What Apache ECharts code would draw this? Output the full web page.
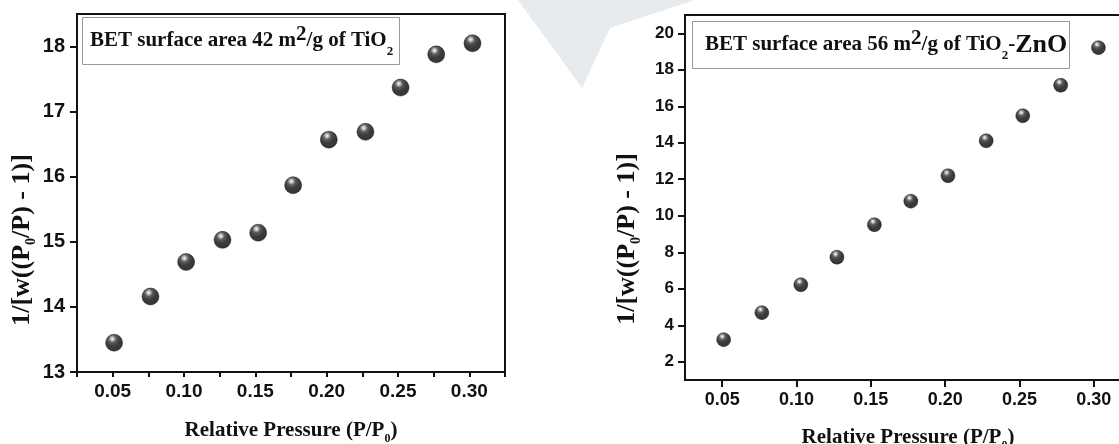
<!DOCTYPE html>
<html><head><meta charset="utf-8">
<script src="https://cdn.jsdelivr.net/npm/echarts@6/dist/echarts.min.js"></script>
<style>html,body{margin:0;padding:0;background:#fff}#c{width:1119px;height:444px}</style>
</head><body><div id="c"></div>
<script>
// ---- data ----
const pressureA = [0.051, 0.0765, 0.1015, 0.127, 0.152, 0.1765, 0.2015, 0.2272, 0.2518, 0.2768, 0.3022];
const betTiO2 = [13.45, 14.16, 14.69, 15.03, 15.14, 15.87, 16.57, 16.69, 17.37, 17.88, 18.05];
const pressureB = [0.051, 0.0767, 0.1029, 0.1272, 0.1524, 0.1769, 0.2019, 0.2276, 0.2522, 0.2777, 0.3031];
const betTiO2ZnO = [3.21, 4.69, 6.22, 7.73, 9.51, 10.80, 12.19, 14.11, 15.48, 17.15, 19.21];
const xLabelTicks = [0.05, 0.10, 0.15, 0.20, 0.25, 0.30];
const xTickMarksA = [0.025, 0.05, 0.075, 0.1, 0.125, 0.15, 0.175, 0.2, 0.225, 0.25, 0.275, 0.3, 0.325];
const yTicksA = [13, 14, 15, 16, 17, 18];
const yTicksB = [2, 4, 6, 8, 10, 12, 14, 16, 18, 20];

const SERIF = 'Liberation Serif';
const SANS = 'Liberation Sans';
const INK = '#111';

function sphere() {
  return {
    type: 'radial', x: 0.4, y: 0.28, r: 0.85,
    colorStops: [
      { offset: 0, color: '#ffffff' },
      { offset: 0.1, color: '#b8b8b8' },
      { offset: 0.26, color: '#333' },
      { offset: 0.5, color: '#0a0a0a' },
      { offset: 1, color: '#000' }
    ]
  };
}

const titleRich = {
  m: { fontFamily: SERIF, fontWeight: 'bold', fontSize: 21, lineHeight: 34, color: INK, verticalAlign: 'middle' },
  sup: { fontFamily: SERIF, fontWeight: 'bold', fontSize: 21, lineHeight: 16, color: INK, verticalAlign: 'top' },
  sub: { fontFamily: SERIF, fontWeight: 'bold', fontSize: 13, lineHeight: 9, color: INK, verticalAlign: 'bottom' },
  big: { fontFamily: SERIF, fontWeight: 'bold', fontSize: 26, lineHeight: 34, color: INK, verticalAlign: 'middle' }
};
const axTitleRich = {
  t: { fontFamily: SERIF, fontWeight: 'bold', fontSize: 21, lineHeight: 28, color: INK, verticalAlign: 'middle' },
  s: { fontFamily: SERIF, fontWeight: 'bold', fontSize: 12, lineHeight: 8, color: INK, verticalAlign: 'bottom' }
};
const yTitleRich = {
  t: { fontFamily: SERIF, fontWeight: 'bold', fontSize: 26, lineHeight: 32, fill: INK, verticalAlign: 'middle' },
  s: { fontFamily: SERIF, fontWeight: 'bold', fontSize: 14, lineHeight: 9, fill: INK, verticalAlign: 'bottom' }
};

function xAxisCfg(gi, labelSize, tickVals, gap) {
  return {
    gridIndex: gi, type: 'value', min: 0.025, max: 0.325,
    axisLine: { show: true, onZero: false, lineStyle: { color: INK, width: 2 } },
    axisTick: { show: true, length: gi === 0 ? 5 : 7, customValues: tickVals, lineStyle: { color: INK, width: 2 } },
    axisLabel: { customValues: xLabelTicks, formatter: v => v.toFixed(2), margin: gi === 0 ? 10 : 11,
      fontSize: labelSize, fontWeight: 'bold', fontFamily: SANS, color: INK },
    splitLine: { show: false },
    name: '{t|Relative Pressure (P/P}{s|0}{t|)}',
    nameLocation: 'middle', nameGap: gap,
    nameTextStyle: { rich: axTitleRich }
  };
}
function yAxisCfg(gi, min, max, ticks, labelSize, margin) {
  return {
    gridIndex: gi, type: 'value', min: min, max: max,
    axisLine: { show: true, onZero: false, lineStyle: { color: INK, width: 2 } },
    axisTick: { show: true, length: 7, customValues: ticks, lineStyle: { color: INK, width: 2 } },
    axisLabel: { customValues: ticks, margin: margin, fontSize: labelSize, fontWeight: 'bold', fontFamily: SANS, color: INK },
    splitLine: { show: false }
  };
}

const chart = echarts.init(document.getElementById('c'), null, { renderer: 'canvas' });
chart.setOption({
  backgroundColor: '#fff',
  animation: false,
  title: [
    { text: '{m|BET surface area 42 m}{sup|2}{m|/g of TiO}{sub|2}', left: 82, top: 17,
      padding: [7, 7, 7, 8], borderColor: '#999', borderWidth: 1,
      textStyle: { rich: titleRich } },
    { text: '{m|BET surface area 56 m}{sup|2}{m|/g of TiO}{sub|2}{m|-}{big|ZnO}', left: 692, top: 21,
      padding: [7, 3, 7, 13], borderColor: '#999', borderWidth: 1,
      textStyle: { rich: titleRich } }
  ],
  grid: [
    { left: 77, top: 14, width: 428, height: 358, show: true, borderColor: INK, borderWidth: 2, outerBoundsMode: 'none', containLabel: false },
    { left: 685, top: 15, width: 446, height: 365, show: true, borderColor: INK, borderWidth: 2, outerBoundsMode: 'none', containLabel: false }
  ],
  xAxis: [xAxisCfg(0, 19, xTickMarksA, 45), xAxisCfg(1, 18, xLabelTicks, 44)],
  yAxis: [yAxisCfg(0, 13, 18.5, yTicksA, 20, 12), yAxisCfg(1, 1, 21, yTicksB, 17, 11)],
  series: [
    { type: 'scatter', xAxisIndex: 0, yAxisIndex: 0, symbol: 'circle', symbolSize: 17,
      itemStyle: { color: sphere(), borderColor: '#000', borderWidth: 0.5 },
      data: pressureA.map((x, i) => [x, betTiO2[i]]) },
    { type: 'scatter', xAxisIndex: 1, yAxisIndex: 1, symbol: 'circle', symbolSize: 14,
      itemStyle: { color: sphere(), borderColor: '#000', borderWidth: 0.5 },
      data: pressureB.map((x, i) => [x, betTiO2ZnO[i]]) }
  ],
  graphic: [
    { type: 'polygon', z: -10, silent: true,
      shape: { points: [[518, 0], [695, 0], [610, 28], [582, 88]] },
      style: { fill: '#e6ebf0' } },
    { type: 'text', x: 22, y: 240, rotation: Math.PI / 2, silent: true,
      style: { text: '{t|1/[w((P}{s|0}{t|/P) - 1)]}', rich: yTitleRich, align: 'center', verticalAlign: 'middle' } },
    { type: 'text', x: 627, y: 239, rotation: Math.PI / 2, silent: true,
      style: { text: '{t|1/[w((P}{s|0}{t|/P) - 1)]}', rich: yTitleRich, align: 'center', verticalAlign: 'middle' } }
  ]
});
</script>
</body></html>
